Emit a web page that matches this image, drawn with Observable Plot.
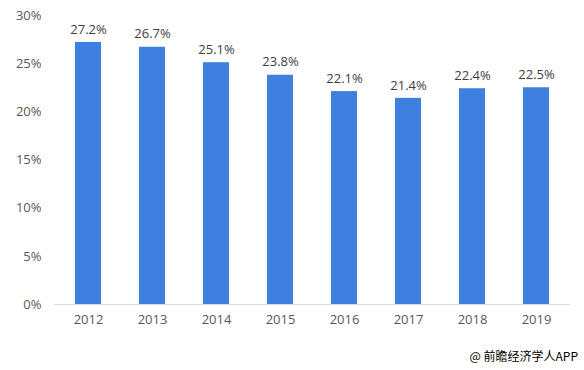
<!DOCTYPE html>
<html><head><meta charset="utf-8">
<script src="https://cdn.jsdelivr.net/npm/d3@7"></script>
<script src="https://cdn.jsdelivr.net/npm/@observablehq/plot@0.6"></script>
<style>
body{margin:0;background:#fff;font-family:"Microsoft YaHei","Noto Sans CJK SC","DejaVu Sans",sans-serif;}
#c{position:relative;width:584px;height:370px;}
#cap{position:absolute;right:6px;top:347px;font-size:12px;color:#000;font-family:"Noto Sans CJK SC",sans-serif;}
</style></head><body>
<div id="c"><div id="chart"></div><div id="cap">@ 前瞻经济学人APP</div></div>
<script>
const years = ["2012","2013","2014","2015","2016","2017","2018","2019"];
const values = [27.2, 26.7, 25.1, 23.8, 22.1, 21.4, 22.4, 22.5];
const yTicks = [0,5,10,15,20,25,30];
const data = years.map((y,i)=>({year:y, value:values[i]}));
const chart = Plot.plot({
  width:584, height:335,
  marginTop:15, marginBottom:31, marginLeft:54, marginRight:14,
  style:{fontFamily:"'Open Sans','DejaVu Sans',sans-serif", fontSize:"13px", color:"#595959"},
  x:{domain:years, paddingInner:0.6, paddingOuter:0.3, label:null, tickSize:0, tickPadding:10},
  y:{domain:[0,30], ticks:yTicks, tickFormat:d=>d+"%", label:null, tickSize:0, tickPadding:13},
  marks:[
    Plot.barY(data,{x:"year", y:"value", fill:"#3d80df"}),
    Plot.ruleY([0],{stroke:"#d9d9d9", strokeWidth:1}),
    Plot.text(data,{x:"year", y:"value", text:d=>d.value.toFixed(1)+"%", dy:-13, fill:"#404040", fontSize:13})
  ]
});
document.getElementById("chart").appendChild(chart);
</script>
</body></html>
